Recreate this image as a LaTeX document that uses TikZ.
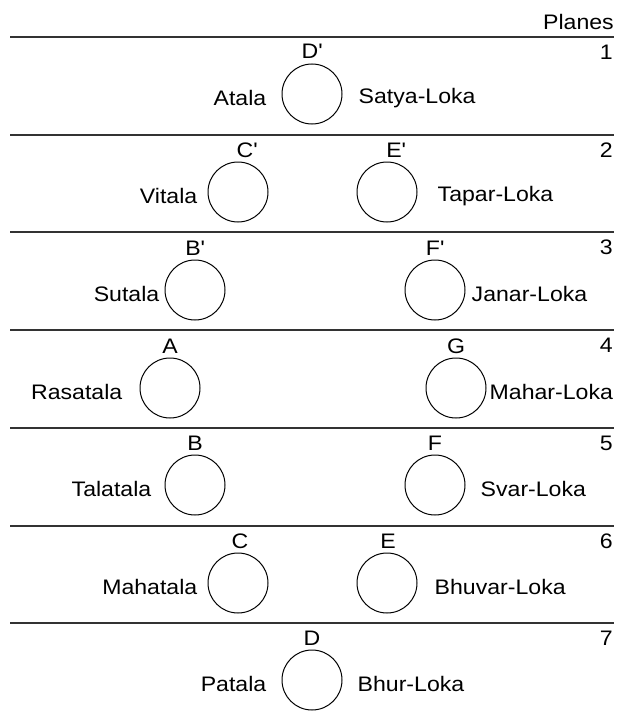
\documentclass[tikz,border=0pt]{standalone}
\usepackage{fontspec}
\setmainfont{Liberation Sans}[FakeStretch=1.1]
\usetikzlibrary{positioning}
\begin{document}
\begin{tikzpicture}[x=1pt,y=-1pt,
  ring/.style={draw=black, circle, minimum size=60pt, inner sep=0pt, line width=1pt},
  txt/.style={inner sep=0pt, font=\fontsize{21}{24}\selectfont},
  sepline/.style={line width=1.8pt, draw=black!80}]
\useasboundingbox (0,0) rectangle (618,717);
\node[txt, anchor=east] (planes) at (614,22) {Planes};
% separator lines
\foreach \yy in {37,135,232,330,428,526,623}
  \draw[sepline] (10,\yy) -- (614,\yy);
% plane numbers
\node[txt, anchor=east] (n1) at (613,52) {1};
\node[txt, anchor=east] (n2) at (613,150) {2};
\node[txt, anchor=east] (n3) at (613,247) {3};
\node[txt, anchor=east] (n4) at (613,345) {4};
\node[txt, anchor=east] (n5) at (613,443) {5};
\node[txt, anchor=east] (n6) at (613,541) {6};
\node[txt, anchor=east] (n7) at (613,638) {7};
% row 1
\node[ring] (Dp) at (312,94) {};
\node[txt] (Dpl) at (312,51) {D\textquotesingle};
\node[txt, anchor=east, yshift=-4pt] (atala) at ([xshift=-15pt]Dp.west) {Atala};
\node[txt, anchor=west, yshift=-4pt] (satya) at ([xshift=16pt]Dp.east) {Satya-Loka};
% row 2
\node[ring] (Cp) at (238,192) {};
\node[txt] (Cpl) at (247,150) {C\textquotesingle};
\node[txt, anchor=east, yshift=-4pt] (vitala) at ([xshift=-10pt]Cp.west) {Vitala};
\node[ring] (Ep) at (387,192) {};
\node[txt] (Epl) at (396,150) {E\textquotesingle};
\node[txt, anchor=west, yshift=-4pt] (tapar) at ([xshift=20pt]Ep.east) {Tapar-Loka};
% row 3
\node[ring] (Bp) at (195,290) {};
\node[txt] (Bpl) at (195,248) {B\textquotesingle};
\node[txt, anchor=east, yshift=-4pt] (sutala) at ([xshift=-5pt]Bp.west) {Sutala};
\node[ring] (Fp) at (435,290) {};
\node[txt] (Fpl) at (435,248) {F\textquotesingle};
\node[txt, anchor=west, yshift=-4pt] (janar) at ([xshift=6pt]Fp.east) {Janar-Loka};
% row 4
\node[ring] (A) at (170,388) {};
\node[txt] (Al) at (170,346) {A};
\node[txt, anchor=east, yshift=-4pt] (rasatala) at ([xshift=-17pt]A.west) {Rasatala};
\node[ring] (G) at (456,388) {};
\node[txt] (Gl) at (456,346) {G};
\node[txt, anchor=west, yshift=-4pt] (mahar) at ([xshift=3pt]G.east) {Mahar-Loka};
% row 5
\node[ring] (B) at (195,485) {};
\node[txt] (Bl) at (195,443) {B};
\node[txt, anchor=east, yshift=-4pt] (talatala) at ([xshift=-13pt]B.west) {Talatala};
\node[ring] (F) at (435,485) {};
\node[txt] (Fl) at (435,443) {F};
\node[txt, anchor=west, yshift=-4pt] (svar) at ([xshift=15pt]F.east) {Svar-Loka};
% row 6
\node[ring] (C) at (238,583) {};
\node[txt] (Cl) at (240,541) {C};
\node[txt, anchor=east, yshift=-4pt] (mahatala) at ([xshift=-10pt]C.west) {Mahatala};
\node[ring] (E) at (387,583) {};
\node[txt] (El) at (388,541) {E};
\node[txt, anchor=west, yshift=-4pt] (bhuvar) at ([xshift=17pt]E.east) {Bhuvar-Loka};
% row 7
\node[ring] (D) at (312,680) {};
\node[txt] (Dl) at (312,638) {D};
\node[txt, anchor=east, yshift=-4pt] (patala) at ([xshift=-15pt]D.west) {Patala};
\node[txt, anchor=west, yshift=-4pt] (bhur) at ([xshift=15pt]D.east) {Bhur-Loka};
\end{tikzpicture}
\end{document}
